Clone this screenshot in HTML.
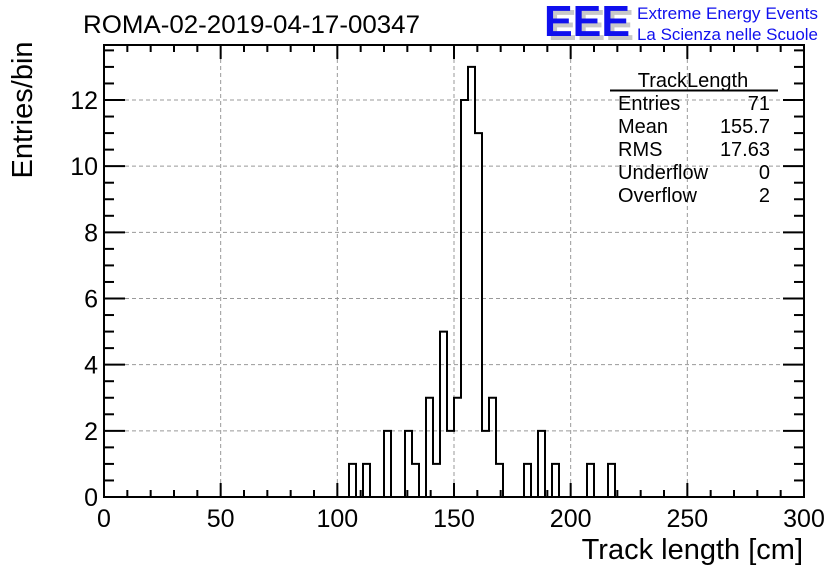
<!DOCTYPE html>
<html><head><meta charset="utf-8"><style>
html,body{margin:0;padding:0;background:#fff;}
svg{display:block;font-family:"Liberation Sans",Arial,sans-serif;}
</style></head><body>
<svg id="c" width="836" height="572">
<rect width="836" height="572" fill="#fff"/>
<g id="grid"></g>
<path id="hist" fill="none" stroke="#000" stroke-width="2"/>
<g id="axes"></g>
<text x="83" y="33" font-size="25" textLength="337" lengthAdjust="spacingAndGlyphs">ROMA-02-2019-04-17-00347</text>
<text transform="translate(32,110) rotate(-90)" text-anchor="middle" font-size="29">Entries/bin</text>
<text x="803" y="559" text-anchor="end" font-size="29">Track length [cm]</text>
<g>
<text x="548" y="40" font-size="44" font-weight="bold" fill="#c8c8c8" textLength="86" lengthAdjust="spacingAndGlyphs">EEE</text>
<text x="544" y="36" font-size="44" font-weight="bold" fill="#1010ee" textLength="86" lengthAdjust="spacingAndGlyphs">EEE</text>
<text x="637" y="19" font-size="17" fill="#1010ee" textLength="181" lengthAdjust="spacingAndGlyphs">Extreme Energy Events</text>
<text x="637" y="40" font-size="17" fill="#1010ee" textLength="181" lengthAdjust="spacingAndGlyphs">La Scienza nelle Scuole</text>
</g>
<g font-size="20">
<text x="693" y="87" text-anchor="middle">TrackLength</text>
<line x1="610" y1="90.5" x2="778" y2="90.5" stroke="#000" stroke-width="2"/>
<text x="618" y="110">Entries</text><text x="770" y="110" text-anchor="end">71</text>
<text x="618" y="133">Mean</text><text x="770" y="133" text-anchor="end">155.7</text>
<text x="618" y="156">RMS</text><text x="770" y="156" text-anchor="end">17.63</text>
<text x="618" y="179">Underflow</text><text x="770" y="179" text-anchor="end">0</text>
<text x="618" y="202">Overflow</text><text x="770" y="202" text-anchor="end">2</text>
</g>
</svg>
<script>
const binEdgesStart = [105,111,120,129,132,138,141,144,147,150,153,156,159,162,165,168,180,186,192,207,216];
const binCounts     = [1,1,2,2,1,3,1,5,2,3,12,13,11,2,3,1,1,2,1,1,1];
const binWidth = 3;
const xTicks = [0,50,100,150,200,250,300];
const yTicks = [0,2,4,6,8,10,12];

const X0=104,X1=804,Y0=497,YT=45;
const xs=v=>X0+(v-0)/(300-0)*(X1-X0);
const ys=v=>Y0-v*(Y0-100)/12;
const NS="http://www.w3.org/2000/svg";
function mk(tag,attrs,parent){const e=document.createElementNS(NS,tag);for(const k in attrs)e.setAttribute(k,attrs[k]);parent.appendChild(e);return e;}
const grid=document.getElementById('grid'),axes=document.getElementById('axes');
xTicks.forEach(t=>{if(t>0&&t<300){const l=mk('line',{x1:xs(t),x2:xs(t),y1:YT,y2:Y0,stroke:'#999','stroke-dasharray':'4,3','stroke-width':1},grid);

}});
yTicks.forEach(t=>{if(t>0){const l=mk('line',{x1:X0,x2:X1,y1:ys(t),y2:ys(t),stroke:'#999','stroke-dasharray':'4,3','stroke-width':1},grid);

}});
const counts=new Array(100).fill(0);
binEdgesStart.forEach((s,i)=>{counts[Math.round(s/binWidth)]=binCounts[i];});
let d=`M${xs(0)},${ys(0)}`;
for(let i=0;i<100;i++){d+=` L${xs(i*binWidth)},${ys(counts[i])} L${xs((i+1)*binWidth)},${ys(counts[i])}`;}
d+=` L${xs(300)},${ys(0)}`;
document.getElementById('hist').setAttribute('d',d);
const fr=mk('rect',{x:X0,y:YT,width:X1-X0,height:Y0-YT,fill:'none',stroke:'#000','stroke-width':2},axes);


for(let v=0;v<=300;v+=10){const major=v%50===0;const len=major?14:7;
mk('line',{x1:xs(v),x2:xs(v),y1:Y0,y2:Y0-len,stroke:'#000','stroke-width':2},axes);
mk('line',{x1:xs(v),x2:xs(v),y1:YT,y2:YT+len,stroke:'#000','stroke-width':2},axes);}
xTicks.forEach(t=>{const tx=mk('text',{x:xs(t),y:527,'text-anchor':'middle','font-size':25},axes);tx.textContent=t;

});
for(let v=0;v<=13.6;v+=0.5){const major=Math.abs(v%2)<1e-9;const len=major?21:10;
mk('line',{x1:X0,x2:X0+len,y1:ys(v),y2:ys(v),stroke:'#000','stroke-width':2},axes);
mk('line',{x1:X1,x2:X1-len,y1:ys(v),y2:ys(v),stroke:'#000','stroke-width':2},axes);}
yTicks.forEach(t=>{const tx=mk('text',{x:98,y:ys(t)+9,'text-anchor':'end','font-size':25},axes);tx.textContent=t;

});
</script>
</body></html>
